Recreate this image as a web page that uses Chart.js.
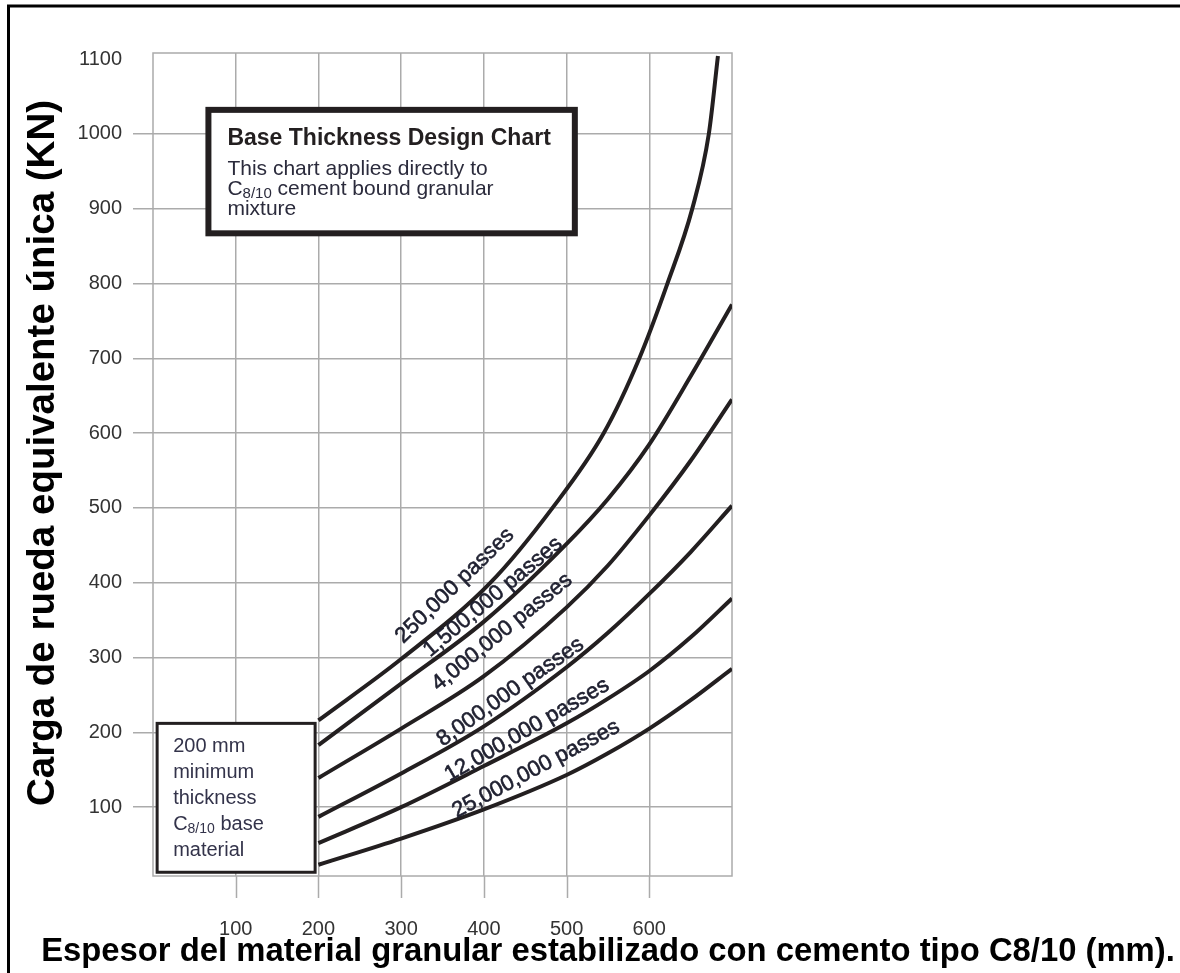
<!DOCTYPE html>
<html>
<head>
<meta charset="utf-8">
<title>Base Thickness Design Chart</title>
<script src="https://cdn.jsdelivr.net/npm/chart.js@4.4.1/dist/chart.umd.min.js"></script>
<style>
  html, body { margin: 0; padding: 0; background: #fff; }
  canvas { display: block; }
</style>
</head>
<body>
<canvas id="designChart" width="1180" height="973"></canvas>
<script>
// Base thickness (mm) against single equivalent wheel load (kN), one curve per traffic level
const xTicks = [100, 200, 300, 400, 500, 600];
const yTicks = [100, 200, 300, 400, 500, 600, 700, 800, 900, 1000, 1100];

const passLabels = ["250,000 passes", "1,500,000 passes", "4,000,000 passes",
                    "8,000,000 passes", "12,000,000 passes", "25,000,000 passes"];

// the lightest traffic curve is read where it crosses the load grid lines
const thickness250k = [200, 300, 408, 483, 545, 588, 622, 652, 672, 683];
const load250k      = [216, 298, 400, 500, 600, 700, 800, 900, 1000, 1104];

const thicknessMm = [200, 300, 400, 500, 550, 600, 650, 700];
const load1500k   = [183, 265, 348, 452, 512, 585, 676, 772];
const load4M      = [139, 205, 275, 367, 423, 490, 563, 645];
const load8M      = [87, 145, 208, 287, 333, 385, 441, 503];
const load12M     = [52, 100, 155, 212, 245, 282, 327, 379];
const load25M     = [23, 58, 97, 143, 172, 205, 243, 285];

const seriesX = [thickness250k, thicknessMm, thicknessMm, thicknessMm, thicknessMm, thicknessMm];
const seriesY = [load250k, load1500k, load4M, load8M, load12M, load25M];

// where each curve name sits (data units) and how it is tilted
const labelSpots = [
  { x: 365, y: 396, angle: -44 },
  { x: 411, y: 381, angle: -40 },
  { x: 422, y: 334, angle: -39 },
  { x: 432, y: 254, angle: -35 },
  { x: 452, y: 203, angle: -30 },
  { x: 463, y: 151, angle: -28 }
];

// note boxes, in data units
const designBox = { x0: 67, x1: 510, y0: 867, y1: 1032 };
const minBox = { x0: 5, x1: 196, y0: 13, y1: 212 };

const ink = "#231f20";
const gridGray = "#ababab";
const sans = "'Liberation Sans', Arial, sans-serif";

// draws a line of text where some parts are set as subscripts
function drawRich(ctx, parts, x, y, size, color) {
  let cx = x;
  ctx.fillStyle = color;
  ctx.textAlign = "left";
  ctx.textBaseline = "alphabetic";
  parts.forEach(p => {
    ctx.font = (p.sub ? Math.round(size * 0.72) : size) + "px " + sans;
    ctx.fillText(p.t, cx, p.sub ? y + 3 : y);
    cx += ctx.measureText(p.t).width;
  });
}

const decorations = {
  id: "decorations",
  beforeDraw(chart) {
    const { ctx } = chart;
    ctx.save();
    ctx.fillStyle = "#fff";
    ctx.fillRect(0, 0, chart.width, chart.height);
    ctx.strokeStyle = "#000";
    ctx.lineWidth = 3;
    ctx.beginPath();
    ctx.moveTo(8.5, chart.height);
    ctx.lineTo(8.5, 6);
    ctx.lineTo(chart.width, 6);
    ctx.stroke();
    ctx.restore();
  },
  beforeDatasetsDraw(chart) {
    const { ctx, chartArea: a } = chart;
    const xs = chart.scales.x;
    ctx.save();
    ctx.strokeStyle = gridGray;
    ctx.lineWidth = 1.5;
    ctx.strokeRect(a.left, a.top, a.right - a.left, a.bottom - a.top);
    // tick marks hanging below the plot
    ctx.beginPath();
    xTicks.forEach(v => {
      const px = Math.round(xs.getPixelForValue(v)) + 0.5;
      ctx.moveTo(px, a.bottom);
      ctx.lineTo(px, a.bottom + 22);
    });
    ctx.stroke();
    ctx.restore();
  },
  afterDatasetsDraw(chart) {
    const { ctx } = chart;
    const xs = chart.scales.x, ys = chart.scales.y;
    ctx.save();

    // curve names
    ctx.font = "22px " + sans;
    ctx.fillStyle = "#1f2030";
    ctx.strokeStyle = "#1f2030";
    ctx.lineWidth = 0.6;
    ctx.textAlign = "center";
    ctx.textBaseline = "middle";
    labelSpots.forEach((s, i) => {
      ctx.save();
      ctx.translate(xs.getPixelForValue(s.x), ys.getPixelForValue(s.y));
      ctx.rotate(s.angle * Math.PI / 180);
      ctx.fillText(passLabels[i], 0, 0);
      ctx.strokeText(passLabels[i], 0, 0);
      ctx.restore();
    });

    // design chart box
    let l = xs.getPixelForValue(designBox.x0), r = xs.getPixelForValue(designBox.x1);
    let t = ys.getPixelForValue(designBox.y1), b = ys.getPixelForValue(designBox.y0);
    ctx.fillStyle = "#fff";
    ctx.fillRect(l, t, r - l, b - t);
    ctx.strokeStyle = ink;
    ctx.lineWidth = 6;
    ctx.strokeRect(l, t, r - l, b - t);
    ctx.fillStyle = ink;
    ctx.textAlign = "left";
    ctx.textBaseline = "alphabetic";
    ctx.font = "bold 23px " + sans;
    ctx.fillText("Base Thickness Design Chart", l + 19, t + 35);
    drawRich(ctx, [{ t: "This chart applies directly to" }], l + 19, t + 65, 21, "#2b2b3c");
    drawRich(ctx, [{ t: "C" }, { t: "8/10", sub: true }, { t: " cement bound granular" }], l + 19, t + 85, 21, "#2b2b3c");
    drawRich(ctx, [{ t: "mixture" }], l + 19, t + 105, 21, "#2b2b3c");

    // minimum thickness box
    l = xs.getPixelForValue(minBox.x0); r = xs.getPixelForValue(minBox.x1);
    t = ys.getPixelForValue(minBox.y1); b = ys.getPixelForValue(minBox.y0);
    ctx.fillStyle = "#fff";
    ctx.fillRect(l, t, r - l, b - t);
    ctx.strokeStyle = ink;
    ctx.lineWidth = 3;
    ctx.strokeRect(l, t, r - l, b - t);
    const noteLines = [
      [{ t: "200 mm" }],
      [{ t: "minimum" }],
      [{ t: "thickness" }],
      [{ t: "C" }, { t: "8/10", sub: true }, { t: " base" }],
      [{ t: "material" }]
    ];
    noteLines.forEach((parts, i) => {
      drawRich(ctx, parts, l + 16, t + 29 + i * 26, 20, "#33334a");
    });
    ctx.restore();
  },
  afterDraw(chart) {
    const { ctx } = chart;
    ctx.save();
    ctx.fillStyle = "#000";
    ctx.textAlign = "center";
    ctx.textBaseline = "alphabetic";
    ctx.font = "bold 32.8px " + sans;
    ctx.fillText("Espesor del material granular estabilizado con cemento tipo C8/10 (mm).", 608, 961);
    ctx.translate(43, 453);
    ctx.rotate(-Math.PI / 2);
    ctx.textBaseline = "middle";
    ctx.font = "bold 38.5px " + sans;
    ctx.fillText("Carga de rueda equivalente única (KN)", 0, 0);
    ctx.restore();
  }
};

const ctx = document.getElementById("designChart").getContext("2d");

new Chart(ctx, {
  type: "line",
  data: {
    datasets: seriesY.map((loads, i) => ({
      label: passLabels[i],
      data: seriesX[i].map((x, j) => ({ x: x, y: loads[j] })),
      borderColor: ink,
      borderWidth: 4,
      pointRadius: 0,
      fill: false,
      cubicInterpolationMode: "monotone"
    }))
  },
  options: {
    responsive: false,
    animation: false,
    layout: { padding: { top: 53, right: 448, bottom: 0, left: 0 } },
    plugins: {
      legend: { display: false },
      tooltip: { enabled: false }
    },
    scales: {
      x: {
        type: "linear",
        min: 0,
        max: 700,
        afterBuildTicks: scale => { scale.ticks = xTicks.map(v => ({ value: v })); },
        afterFit: scale => { scale.height = 97; },
        // marks below the axis come from the plugin, so only the spacing is kept here
        grid: { color: gridGray, lineWidth: 1.5, drawTicks: true, tickLength: 22, tickColor: "rgba(0,0,0,0)" },
        border: { display: false },
        ticks: {
          padding: 19,
          color: "#333",
          font: { family: sans, size: 20 },
          callback: v => String(v)
        }
      },
      y: {
        type: "linear",
        min: 8,
        max: 1108,
        afterBuildTicks: scale => { scale.ticks = yTicks.map(v => ({ value: v })); },
        afterFit: scale => { scale.width = 153; },
        grid: {
          color: c => (c.tick && c.tick.value === 1100 ? "rgba(0,0,0,0)" : gridGray),
          lineWidth: 1.5,
          tickLength: 20
        },
        border: { display: false },
        ticks: {
          padding: 11,
          color: "#333",
          font: { family: sans, size: 20 },
          callback: v => String(v)
        }
      }
    }
  },
  plugins: [decorations]
});
</script>
</body>
</html>
